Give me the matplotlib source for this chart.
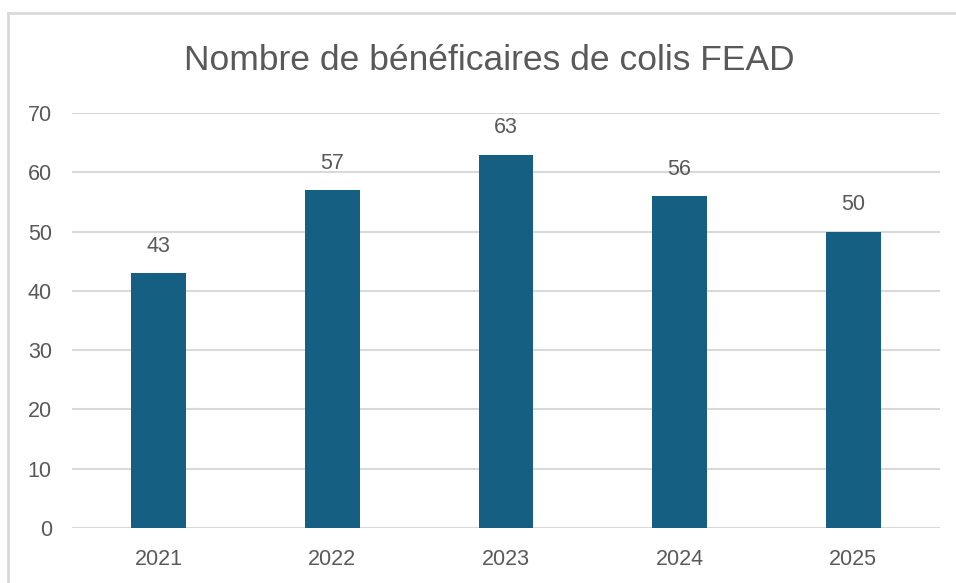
import matplotlib.pyplot as plt
from matplotlib.patches import Rectangle

years = ["2021", "2022", "2023", "2024", "2025"]
beneficiaires = [43, 57, 63, 56, 50]
yticks = [0, 10, 20, 30, 40, 50, 60, 70]

plt.rcParams['font.family'] = ['Liberation Sans', 'DejaVu Sans']
text_col = "#595959"

fig = plt.figure(figsize=(9.56, 5.83), dpi=100)
ax = fig.add_axes([72/956, 55/583, 868/956, 415/583])

# chart border (top and left only visible in the crop)
fig.add_artist(Rectangle((8/956, -0.1), 1.2, (583-13)/583 + 0.1, transform=fig.transFigure,
                         fill=False, edgecolor="#D9D9D9", linewidth=2))

x = range(len(years))
bars = ax.bar(x, beneficiaires, width=0.315, color="#156082", zorder=3)
for b, v in zip(bars, beneficiaires):
    ax.text(b.get_x() + b.get_width()/2, v + 4.5, str(v), ha="center", va="center",
            fontsize=15.5, color=text_col)

ax.set_xlim(-0.5, 4.5)
ax.set_ylim(0, 70)
ax.set_yticks(yticks)
ax.set_xticks(list(x))
ax.set_xticklabels(years)
ax.grid(axis="y", color="#D9D9D9", linewidth=1.5, zorder=0)
for s in ax.spines.values():
    s.set_visible(False)
ax.tick_params(length=0, labelsize=15.5, labelcolor=text_col)
ax.tick_params(axis="y", pad=14.5)
ax.tick_params(axis="x", pad=15)

fig.text(489/956, (583-70)/583, "Nombre de bénéficaires de colis FEAD", ha="center", va="baseline",
         fontsize=25.5, color=text_col)

fig.savefig("out.png", dpi=100)
